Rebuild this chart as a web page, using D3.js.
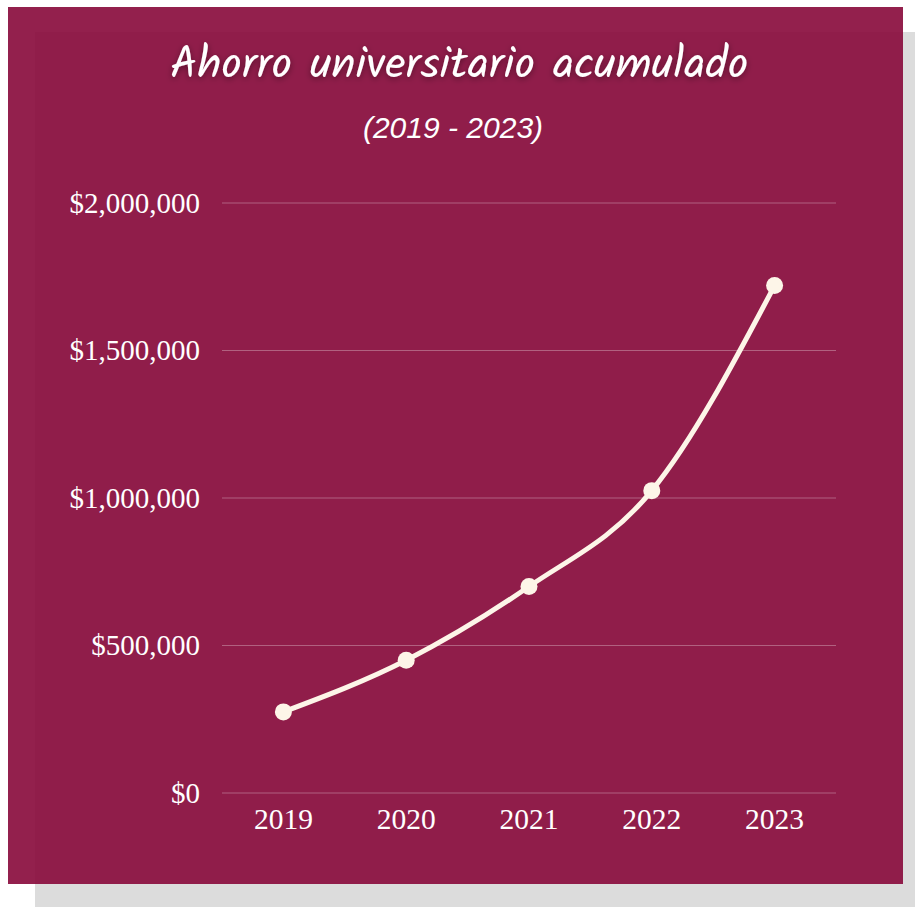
<!DOCTYPE html>
<html>
<head>
<meta charset="utf-8">
<script src="https://cdn.jsdelivr.net/npm/d3@7"></script>
<style>
  body { margin: 0; background: #fff; }
</style>
</head>
<body>
<div id="chart"></div>
<script>
// datos
const years = ["2019", "2020", "2021", "2022", "2023"];
const savings = [275000, 450000, 700000, 1025000, 1720000];
const yTicks = [0, 500000, 1000000, 1500000, 2000000];

const W = 915, H = 907;
const margin = { top: 203, right: 79, bottom: 114, left: 222 };

const svg = d3.select("#chart").append("svg")
  .attr("width", W)
  .attr("height", H);

// sombra del titulo
const defs = svg.append("defs");
const glow = defs.append("filter").attr("id", "glow")
  .attr("x", "-10%").attr("y", "-50%").attr("width", "120%").attr("height", "200%");
glow.append("feDropShadow")
  .attr("dx", 0).attr("dy", 2).attr("stdDeviation", 3)
  .attr("flood-color", "#000").attr("flood-opacity", 0.4);

// sombra de la tarjeta
svg.append("rect")
  .attr("x", 35).attr("y", 32)
  .attr("width", 880).attr("height", 875)
  .attr("fill", "#dcdcdc");

svg.append("rect")
  .attr("x", 8).attr("y", 7)
  .attr("width", 895).attr("height", 877)
  .attr("fill", "#87083a")
  .attr("fill-opacity", 0.9);

// titulo
svg.append("text")
  .attr("x", 459).attr("y", 78)
  .attr("text-anchor", "middle")
  .attr("fill", "#fff")
  .attr("filter", "url(#glow)")
  .style("font-family", "Kalam, 'Caveat Brush', 'Open Sans', sans-serif")
  .style("font-size", "45px")
  .text("Ahorro universitario acumulado");

svg.append("text")
  .attr("x", 453).attr("y", 138)
  .attr("text-anchor", "middle")
  .attr("fill", "#fff")
  .style("font-family", "'Liberation Sans', Arial, sans-serif")
  .style("font-style", "italic")
  .style("font-size", "30px")
  .text("(2019 - 2023)");

// escalas
const x = d3.scaleBand()
  .domain(years)
  .range([margin.left, W - margin.right])
  .padding(0);

const y = d3.scaleLinear()
  .domain([0, 2000000])
  .range([H - margin.bottom, margin.top]);

const cx = d => x(d) + x.bandwidth() / 2;

// lineas de cuadricula
svg.append("g")
  .selectAll("line")
  .data(yTicks)
  .join("line")
  .attr("x1", margin.left).attr("x2", W - margin.right)
  .attr("y1", d => y(d)).attr("y2", d => y(d))
  .attr("stroke", "#fff")
  .attr("stroke-opacity", 0.3)
  .attr("stroke-width", 1);

// eje y
const yAxis = svg.append("g")
  .attr("transform", `translate(${margin.left - 22},0)`)
  .call(d3.axisLeft(y).tickValues(yTicks).tickSize(0).tickPadding(0)
    .tickFormat(d => "$" + d3.format(",")(d)));
yAxis.select(".domain").remove();
yAxis.selectAll("text")
  .attr("fill", "#fff")
  .style("font-family", "'Liberation Serif', 'Times New Roman', serif")
  .style("font-size", "29px");

// eje x
const xAxis = svg.append("g")
  .attr("transform", `translate(0,${H - margin.bottom})`)
  .call(d3.axisBottom(x).tickSize(0).tickPadding(15));
xAxis.select(".domain").remove();
xAxis.selectAll("text")
  .attr("fill", "#fff")
  .style("font-family", "'Liberation Serif', 'Times New Roman', serif")
  .style("font-size", "29.5px");

// linea
const line = d3.line()
  .x((d, i) => cx(years[i]))
  .y(d => y(d))
  .curve(d3.curveMonotoneX);

svg.append("path")
  .datum(savings)
  .attr("fill", "none")
  .attr("stroke", "#fdf5e8")
  .attr("stroke-width", 5)
  .attr("d", line);

svg.selectAll(".dot")
  .data(savings)
  .join("circle")
  .attr("class", "dot")
  .attr("cx", (d, i) => cx(years[i]))
  .attr("cy", d => y(d))
  .attr("r", 8.5)
  .attr("fill", "#fdf5e8");
</script>
</body>
</html>
